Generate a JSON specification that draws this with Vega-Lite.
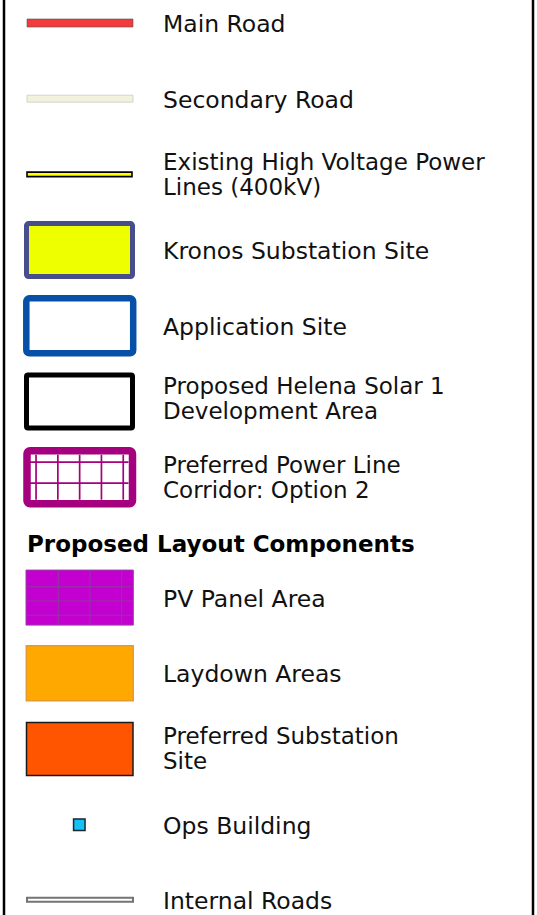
{
  "$schema": "https://vega.github.io/schema/vega-lite/v6.json",
  "width": 537,
  "height": 915,
  "autosize": "none",
  "padding": 0,
  "background": "white",
  "config": {"view": {"stroke": null}},
  "data": {"values": [
    {"item": "Main Road", "label": ["Main Road"], "slot": 0, "lines": 1},
    {"item": "Secondary Road", "label": ["Secondary Road"], "slot": 1, "lines": 1},
    {"item": "Existing High Voltage Power Lines", "label": ["Existing High Voltage Power", "Lines (400kV)"], "slot": 2, "lines": 2},
    {"item": "Kronos Substation Site", "label": ["Kronos Substation Site"], "slot": 3, "lines": 1},
    {"item": "Application Site", "label": ["Application Site"], "slot": 4, "lines": 1},
    {"item": "Proposed Helena Solar 1 Development Area", "label": ["Proposed Helena Solar 1", "Development Area"], "slot": 5, "lines": 2},
    {"item": "Preferred Power Line Corridor", "label": ["Preferred Power Line", "Corridor: Option 2"], "slot": 6, "lines": 2},
    {"item": "Header", "label": ["Proposed Layout Components"], "slot": 6.87, "lines": 1},
    {"item": "PV Panel Area", "label": ["PV Panel Area"], "slot": 7.59, "lines": 1},
    {"item": "Laydown Areas", "label": ["Laydown Areas"], "slot": 8.59, "lines": 1},
    {"item": "Preferred Substation Site", "label": ["Preferred Substation", "Site"], "slot": 9.59, "lines": 2},
    {"item": "Ops Building", "label": ["Ops Building"], "slot": 10.59, "lines": 1},
    {"item": "Internal Roads", "label": ["Internal Roads"], "slot": 11.58, "lines": 1}
  ]},
  "encoding": {
    "y": {"field": "slot", "type": "quantitative", "scale": {"domain": [-0.3038, 11.783], "reverse": true, "nice": false, "zero": false}, "axis": null}
  },
  "layer": [
    {"transform": [{"filter": "datum.slot === 0"}],
     "mark": {"type": "rule", "stroke": "#000", "strokeWidth": 2.5},
     "encoding": {"x": {"datum": 4, "type": "quantitative", "scale": {"domain": [0, 537], "nice": false, "zero": false}, "axis": null}, "y": null}},
    {"transform": [{"filter": "datum.slot === 0"}],
     "mark": {"type": "rule", "stroke": "#000", "strokeWidth": 2.5},
     "encoding": {"x": {"datum": 533, "type": "quantitative"}, "y": null}},

    {"transform": [{"filter": "datum.item === 'Main Road'"}],
     "mark": {"type": "rect", "height": 8, "fill": "#f43a3a", "stroke": "#555", "strokeWidth": 0.6},
     "encoding": {"x": {"datum": 27, "type": "quantitative"}, "x2": {"datum": 133}}},
    {"transform": [{"filter": "datum.item === 'Secondary Road'"}],
     "mark": {"type": "rect", "height": 7, "fill": "#f2f2dc", "stroke": "#d0d0cc", "strokeWidth": 0.9},
     "encoding": {"x": {"datum": 27, "type": "quantitative"}, "x2": {"datum": 133}}},
    {"transform": [{"filter": "datum.item === 'Existing High Voltage Power Lines'"}],
     "mark": {"type": "rect", "height": 4.5, "fill": "#ffff00", "stroke": "#000", "strokeWidth": 1.6},
     "encoding": {"x": {"datum": 27, "type": "quantitative"}, "x2": {"datum": 132}}},
    {"transform": [{"filter": "datum.item === 'Kronos Substation Site'"}],
     "mark": {"type": "rect", "height": 53, "fill": "#eeff00", "stroke": "#474e89", "strokeWidth": 5, "cornerRadius": 2},
     "encoding": {"x": {"datum": 26.5, "type": "quantitative"}, "x2": {"datum": 132.5}}},
    {"transform": [{"filter": "datum.item === 'Application Site'"}],
     "mark": {"type": "rect", "height": 55, "fill": "#ffffff", "stroke": "#0650a8", "strokeWidth": 6.5, "cornerRadius": 3},
     "encoding": {"x": {"datum": 26.3, "type": "quantitative"}, "x2": {"datum": 133.2}}},
    {"transform": [{"filter": "datum.item === 'Proposed Helena Solar 1 Development Area'"}],
     "mark": {"type": "rect", "height": 53, "fill": "#ffffff", "stroke": "#000", "strokeWidth": 5, "cornerRadius": 1.5},
     "encoding": {"x": {"datum": 26.5, "type": "quantitative"}, "x2": {"datum": 132.5}}},
    {"transform": [{"filter": "datum.item === 'Preferred Power Line Corridor'"}],
     "mark": {"type": "rect", "height": 53, "fill": "#ffffff", "stroke": "#a5007e", "strokeWidth": 7.5, "cornerRadius": 3},
     "encoding": {"x": {"datum": 27, "type": "quantitative"}, "x2": {"datum": 132.5}}},
    {"transform": [{"filter": "datum.item === 'Preferred Power Line Corridor'"}],
     "mark": {"type": "rule", "stroke": "#a5007e", "strokeWidth": 45, "strokeDash": [1.7, 20.1], "strokeCap": "butt"},
     "encoding": {"x": {"datum": 35.2, "type": "quantitative"}, "x2": {"datum": 127}}},
    {"transform": [{"filter": "datum.item === 'Preferred Power Line Corridor'"}],
     "mark": {"type": "rule", "stroke": "#a5007e", "strokeWidth": 99, "strokeDash": [1.7, 19.3], "strokeCap": "butt", "yOffset": -16, "y2Offset": 22},
     "encoding": {"x": {"datum": 79, "type": "quantitative"}, "y2": {"field": "slot"}}},

    {"transform": [{"filter": "datum.item === 'Header'"}],
     "mark": {"type": "text", "align": "left", "baseline": "middle", "font": "DejaVu Sans", "fontWeight": "bold", "fontSize": 23, "color": "#000", "yOffset": 2},
     "encoding": {"x": {"datum": 27, "type": "quantitative"}, "text": {"field": "label"}}},

    {"transform": [{"filter": "datum.item === 'PV Panel Area'"}],
     "mark": {"type": "rect", "height": 55, "fill": "#c300cf", "stroke": "#9b3aa8", "strokeWidth": 1},
     "encoding": {"x": {"datum": 26, "type": "quantitative"}, "x2": {"datum": 133.3}}},
    {"transform": [{"filter": "datum.item === 'PV Panel Area'"}],
     "mark": {"type": "rule", "stroke": "#8e3a9e", "strokeWidth": 55, "strokeDash": [1, 30.7], "strokeCap": "butt"},
     "encoding": {"x": {"datum": 57.8, "type": "quantitative"}, "x2": {"datum": 133}}},
    {"transform": [{"filter": "datum.item === 'PV Panel Area'"}],
     "mark": {"type": "rule", "stroke": "#8e3a9e", "strokeWidth": 107, "strokeDash": [1, 13.2], "strokeCap": "butt", "yOffset": -11.3, "y2Offset": 27},
     "encoding": {"x": {"datum": 79.6, "type": "quantitative"}, "y2": {"field": "slot"}}},

    {"transform": [{"filter": "datum.item === 'Laydown Areas'"}],
     "mark": {"type": "rect", "height": 55, "fill": "#fea800", "stroke": "#e49a2e", "strokeWidth": 1.5},
     "encoding": {"x": {"datum": 26.3, "type": "quantitative"}, "x2": {"datum": 133.2}}},
    {"transform": [{"filter": "datum.item === 'Preferred Substation Site'"}],
     "mark": {"type": "rect", "height": 53, "fill": "#ff5500", "stroke": "#1a1a1a", "strokeWidth": 1.5},
     "encoding": {"x": {"datum": 26.5, "type": "quantitative"}, "x2": {"datum": 133}}},
    {"transform": [{"filter": "datum.item === 'Ops Building'"}],
     "mark": {"type": "square", "size": 132, "filled": true, "fill": "#13c2f6", "stroke": "#1a2630", "strokeWidth": 1.5, "opacity": 1},
     "encoding": {"x": {"datum": 79.3, "type": "quantitative"}}},
    {"transform": [{"filter": "datum.item === 'Internal Roads'"}],
     "mark": {"type": "rect", "height": 4, "fill": "#ffffff", "stroke": "#737373", "strokeWidth": 2},
     "encoding": {"x": {"datum": 27, "type": "quantitative"}, "x2": {"datum": 133}}},

    {"transform": [{"filter": "datum.item !== 'Header' && datum.lines === 1"}],
     "mark": {"type": "text", "align": "left", "baseline": "middle", "font": "DejaVu Sans", "fontSize": 23.5, "color": "#111", "yOffset": 2},
     "encoding": {"x": {"datum": 163, "type": "quantitative"}, "text": {"field": "label"}}},
    {"transform": [{"filter": "datum.lines === 2 && datum.slot !== 5"}],
     "mark": {"type": "text", "align": "left", "baseline": "middle", "font": "DejaVu Sans", "fontSize": 23, "lineHeight": 25, "color": "#111", "yOffset": -11.5},
     "encoding": {"x": {"datum": 163, "type": "quantitative"}, "text": {"field": "label"}}},
    {"transform": [{"filter": "datum.lines === 2 && datum.slot === 5"}],
     "mark": {"type": "text", "align": "left", "baseline": "middle", "font": "DejaVu Sans", "fontSize": 23, "lineHeight": 25, "color": "#111", "yOffset": -15},
     "encoding": {"x": {"datum": 163, "type": "quantitative"}, "text": {"field": "label"}}}
  ]
}
